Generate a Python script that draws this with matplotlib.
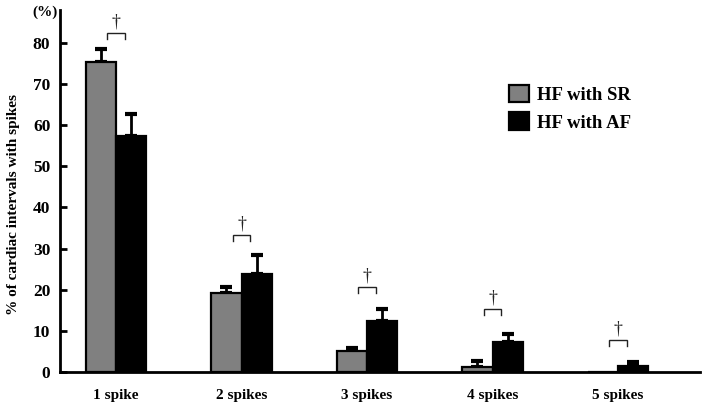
import matplotlib
matplotlib.use("Agg")
import matplotlib.pyplot as plt
import numpy as np

categories = ["1 spike", "2 spikes", "3 spikes", "4 spikes", "5 spikes"]
sr_values = [75.4, 19.2, 5.1, 1.2, 0.0]
sr_errors = [3.2, 1.5, 0.7, 1.5, 0.0]
af_values = [57.4, 23.8, 12.4, 7.3, 1.5]
af_errors = [5.4, 4.7, 2.9, 1.9, 0.9]
bracket_heights = [82.5, 33.3, 20.7, 15.3, 7.8]
series_labels = ["HF with SR", "HF with AF"]
yticks = [0, 10, 20, 30, 40, 50, 60, 70, 80]

plt.rcParams['font.family'] = ['Liberation Serif', 'DejaVu Serif']

fig = plt.figure(figsize=(7.05, 4.07), dpi=100)
ax = fig.add_axes([60/705, 1-372/407, 640/705, 362/407])

x = np.arange(len(categories))
w = 0.24
ax.bar(x - w/2, sr_values, w, color="#808080", edgecolor="black", linewidth=1.6,
       label=series_labels[0], zorder=2)
ax.bar(x + w/2, af_values, w, color="black", edgecolor="black", linewidth=1.6,
       label=series_labels[1], zorder=2)
for i in range(len(categories)):
    if sr_errors[i] > 0:
        ax.errorbar(x[i] - w/2, sr_values[i], yerr=[[0], [sr_errors[i]]], fmt='none',
                    ecolor='black', elinewidth=2, capsize=4.5, capthick=3, zorder=1)
    if af_errors[i] > 0:
        ax.errorbar(x[i] + w/2, af_values[i], yerr=[[0], [af_errors[i]]], fmt='none',
                    ecolor='black', elinewidth=2, capsize=4.5, capthick=3, zorder=1)

# significance brackets
bw = 0.07
for i, h in enumerate(bracket_heights):
    ax.plot([x[i] - bw, x[i] - bw, x[i] + bw, x[i] + bw], [h - 1.5, h, h, h - 1.5],
            color="#222222", linewidth=1.0, solid_joinstyle='miter')
    ax.text(x[i], h + 0.6, "†", ha='center', va='bottom', fontsize=13, color="#222222")

px0 = 116.0
step = 125.5
ax.set_xlim((60 - px0) / step, (700 - px0) / step)
ax.set_ylim(0, 88)
ax.set_xticks(x)
ax.set_xticklabels(categories, fontsize=11, fontweight='bold')
ax.set_yticks(yticks)
ax.set_yticklabels([str(t) for t in yticks], fontsize=12.5, fontweight='bold')
ax.tick_params(axis='x', length=0, pad=12)
ax.tick_params(axis='y', direction='in', length=5, width=2, pad=7)
for s in ['top', 'right']:
    ax.spines[s].set_visible(False)
ax.spines['left'].set_linewidth(2)
ax.spines['bottom'].set_linewidth(2)

ax.set_ylabel("% of cardiac intervals with spikes", fontsize=11, fontweight='bold')
ax.yaxis.set_label_coords(-0.0625, 0.464)
fig.text(45/705, 1-12/407, "(%)", ha='center', va='center', fontsize=11, fontweight='bold')

leg = ax.legend(loc='upper left', bbox_to_anchor=(492/705, 1-68/407), bbox_transform=fig.transFigure,
                frameon=False, prop={'weight': 'bold', 'size': 13.5},
                handlelength=1.05, handleheight=1.05, handletextpad=0.45, labelspacing=0.45)

fig.savefig("out.png", dpi=100)
